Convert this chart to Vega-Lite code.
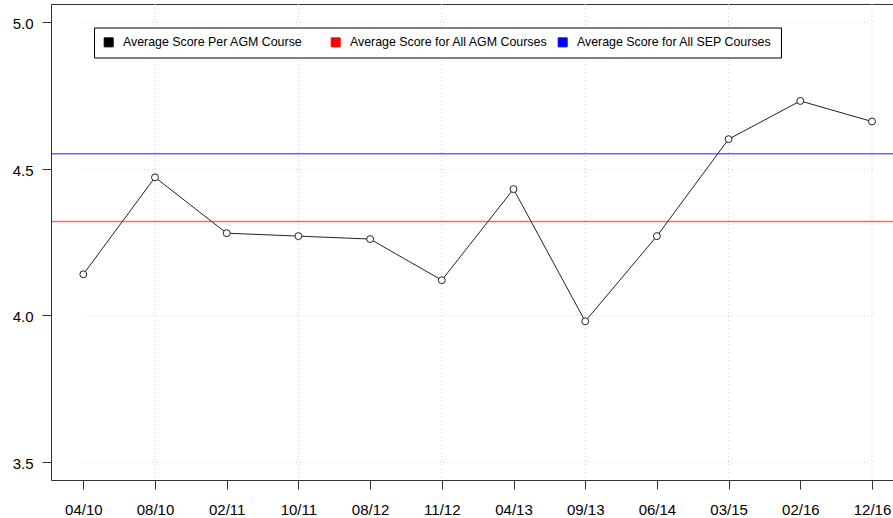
{
  "$schema": "https://vega.github.io/schema/vega-lite/v6.json",
  "autosize": {"type": "none"},
  "width": 842,
  "height": 476,
  "padding": {"left": 51, "top": 4, "right": 0, "bottom": 38},
  "background": "white",
  "config": {
    "view": {"stroke": "#333", "strokeWidth": 1},
    "font": "Liberation Sans",
    "axis": {
      "labelFont": "Liberation Sans",
      "labelFontSize": 15,
      "labelColor": "black",
      "domain": false,
      "tickColor": "#333",
      "tickWidth": 1,
      "tickSize": 9,
      "title": null,
      "gridColor": "#cfcfcf",
      "gridDash": [1, 3],
      "gridWidth": 1
    },
    "legend": {
      "orient": "none",
      "direction": "horizontal",
      "legendX": 43,
      "legendY": 23.5,
      "strokeColor": "black",
      "fillColor": "white",
      "padding": 8.5,
      "gridAlign": "all",
      "labelFont": "Liberation Sans",
      "labelFontSize": 12.4,
      "labelColor": "black",
      "labelLimit": 400,
      "labelOffset": 8,
      "columnPadding": 7,
      "symbolType": "square",
      "symbolSize": 81,
      "symbolStrokeColor": "black",
      "symbolStrokeWidth": 1,
      "symbolOpacity": 1,
      "title": null
    }
  },
  "datasets": {
    "scores": [
      {"course": "04/10", "score": 4.14},
      {"course": "08/10", "score": 4.47},
      {"course": "02/11", "score": 4.28},
      {"course": "10/11", "score": 4.27},
      {"course": "08/12", "score": 4.26},
      {"course": "11/12", "score": 4.12},
      {"course": "04/13", "score": 4.43},
      {"course": "09/13", "score": 3.98},
      {"course": "06/14", "score": 4.27},
      {"course": "03/15", "score": 4.60},
      {"course": "02/16", "score": 4.73},
      {"course": "12/16", "score": 4.66}
    ],
    "refs": [
      {"series": "Average Score for All AGM Courses", "score": 4.32},
      {"series": "Average Score for All SEP Courses", "score": 4.55}
    ]
  },
  "layer": [
    {
      "data": {"name": "refs"},
      "mark": {"type": "square", "filled": true, "opacity": 0},
      "encoding": {
        "y": {"field": "score", "type": "quantitative"},
        "color": {
          "field": "series",
          "type": "nominal",
          "scale": {
            "domain": ["Average Score Per AGM Course", "Average Score for All AGM Courses", "Average Score for All SEP Courses"],
            "range": ["black", "#ff0000", "#0000ff"]
          },
          "legend": {"symbolOpacity": 1}
        }
      }
    },
    {
      "data": {"name": "scores"},
      "transform": [{"filter": {"field": "course", "oneOf": ["08/10", "10/11", "11/12", "09/13", "03/15", "12/16"]}}],
      "mark": {"type": "rule", "color": "#cfcfcf", "strokeDash": [1, 3], "strokeWidth": 1},
      "encoding": {
        "x": {
          "field": "course",
          "type": "ordinal",
          "sort": null,
          "scale": {"type": "point", "range": [32.3, 821], "padding": 0, "domain": ["04/10", "08/10", "02/11", "10/11", "08/12", "11/12", "04/13", "09/13", "06/14", "03/15", "02/16", "12/16"]},
          "axis": {"labelAngle": 0, "labelAlign": "center", "labelBaseline": "top", "labelPadding": 13.5, "grid": false}
        }
      }
    },
    {
      "data": {"name": "scores"},
      "mark": {"type": "line", "color": "#222", "strokeWidth": 1},
      "encoding": {
        "x": {"field": "course", "type": "ordinal", "sort": null, "axis": {"labelAngle": 0, "labelAlign": "center", "labelBaseline": "top", "labelPadding": 13.5, "grid": false}},
        "y": {
          "field": "score",
          "type": "quantitative",
          "scale": {"domain": [3.44, 5.06], "nice": false, "zero": false},
          "axis": {"values": [3.5, 4.0, 4.5, 5.0], "format": ".1f", "labelPadding": 9, "labelOffset": 1.5, "grid": true}
        }
      }
    },
    {
      "data": {"name": "refs"},
      "mark": {"type": "rule", "strokeWidth": 1.5, "opacity": 0.6},
      "encoding": {
        "y": {"field": "score", "type": "quantitative"},
        "color": {"field": "series", "type": "nominal"}
      }
    },
    {
      "data": {"name": "scores"},
      "mark": {"type": "point", "shape": "circle", "size": 48, "filled": false, "fill": "white", "fillOpacity": 1, "stroke": "#222", "strokeWidth": 1, "opacity": 1},
      "encoding": {
        "x": {"field": "course", "type": "ordinal", "sort": null},
        "y": {"field": "score", "type": "quantitative"}
      }
    }
  ]
}
